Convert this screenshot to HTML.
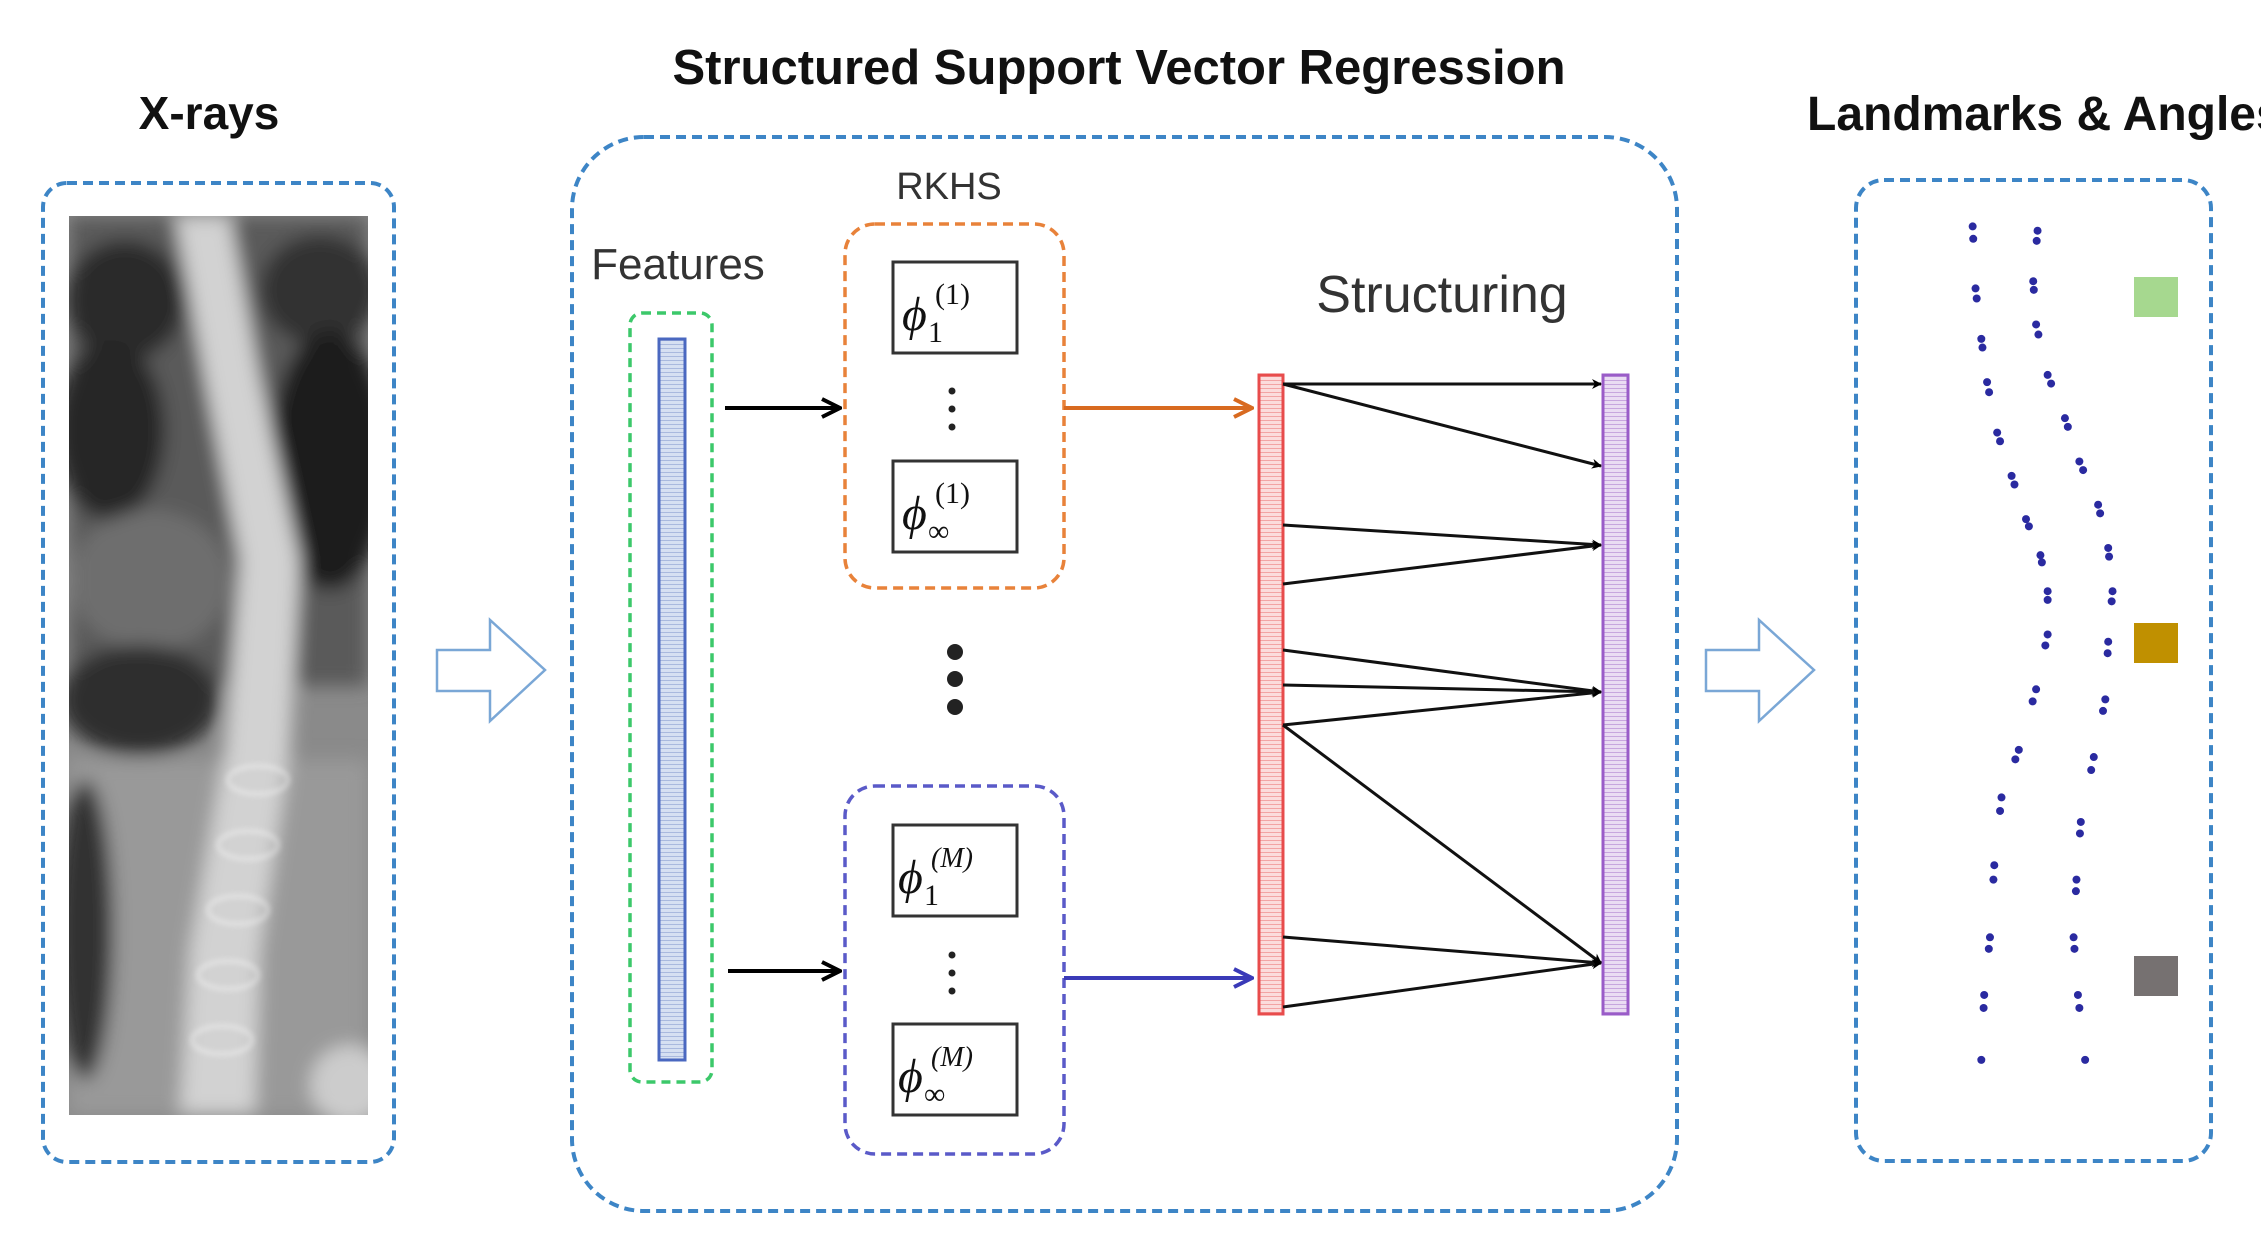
<!DOCTYPE html>
<html><head><meta charset="utf-8"><style>
html,body{margin:0;padding:0;background:#fff;}
body{width:2261px;height:1253px;overflow:hidden;position:relative;font-family:"Liberation Sans",sans-serif;}
</style></head><body>
<svg width="2261" height="1253" viewBox="0 0 2261 1253" xmlns="http://www.w3.org/2000/svg" style="position:absolute;left:0;top:0">
<defs>
<filter id="bl" x="-20%" y="-20%" width="140%" height="140%"><feGaussianBlur stdDeviation="9"/></filter>
<filter id="bl2"><feGaussianBlur stdDeviation="3"/></filter>
<clipPath id="xc"><rect x="69" y="216" width="299" height="899"/></clipPath>
<pattern id="hr" width="6" height="4" patternUnits="userSpaceOnUse"><rect width="6" height="4" fill="#d6e0f2"/><rect width="6" height="1" fill="#a9b9de"/></pattern>
<pattern id="hrr" width="6" height="4" patternUnits="userSpaceOnUse"><rect width="6" height="4" fill="#fbdcdc"/><rect width="6" height="1" fill="#f2a4a4"/></pattern>
<pattern id="hrp" width="6" height="4" patternUnits="userSpaceOnUse"><rect width="6" height="4" fill="#eadcf3"/><rect width="6" height="1" fill="#c7a6de"/></pattern>
<marker id="ak" markerWidth="10" markerHeight="10" refX="9" refY="5" orient="auto" markerUnits="userSpaceOnUse"><path d="M0,0 L10,5 L0,10 L3,5 Z" fill="#000"/></marker>
<marker id="ab" markerWidth="22" markerHeight="22" refX="20" refY="11" orient="auto" markerUnits="userSpaceOnUse"><path d="M2,2 L20,11 L2,20" fill="none" stroke="#000" stroke-width="4"/></marker>
<marker id="ao" markerWidth="22" markerHeight="22" refX="20" refY="11" orient="auto" markerUnits="userSpaceOnUse"><path d="M2,2 L20,11 L2,20" fill="none" stroke="#d86a20" stroke-width="4"/></marker>
<marker id="au" markerWidth="22" markerHeight="22" refX="20" refY="11" orient="auto" markerUnits="userSpaceOnUse"><path d="M2,2 L20,11 L2,20" fill="none" stroke="#3a3ab8" stroke-width="4"/></marker>
</defs>

<!-- Titles -->
<text x="209" y="129" font-size="46" font-weight="bold" text-anchor="middle" fill="#111">X-rays</text>
<text x="1119" y="84" font-size="49" font-weight="bold" text-anchor="middle" fill="#111">Structured Support Vector Regression</text>
<text x="1807" y="130" font-size="48" font-weight="bold" fill="#111">Landmarks &amp; Angles</text>

<!-- X-ray box -->
<rect x="43" y="183" width="351" height="979" rx="24" fill="none" stroke="#3d85c6" stroke-width="4" stroke-dasharray="10,6"/>
<g clip-path="url(#xc)">
<rect x="69" y="216" width="299" height="899" fill="#8a8a8a"/>
<g filter="url(#bl)">
<rect x="69" y="216" width="299" height="470" fill="#5a5a5a"/>
<ellipse cx="125" cy="300" rx="60" ry="60" fill="#2a2a2a"/>
<ellipse cx="110" cy="430" rx="55" ry="90" fill="#262626"/>
<ellipse cx="320" cy="290" rx="60" ry="55" fill="#303030"/>
<ellipse cx="330" cy="460" rx="60" ry="130" fill="#1c1c1c"/>
<ellipse cx="150" cy="580" rx="80" ry="70" fill="#6e6e6e"/>
<ellipse cx="140" cy="700" rx="80" ry="55" fill="#2f2f2f"/>
<rect x="69" y="760" width="299" height="355" fill="#999"/>
<ellipse cx="85" cy="930" rx="28" ry="150" fill="#333"/>
<ellipse cx="350" cy="1085" rx="40" ry="40" fill="#ccc"/>
<path d="M175,216 L230,216 L260,380 L300,560 L290,750 L260,950 L255,1115 L180,1115 L190,950 L225,750 L240,560 L205,380 Z" fill="#d2d2d2"/>
</g>
<g stroke="#fff" stroke-width="3" fill="none" opacity="0.55" filter="url(#bl2)">
<ellipse cx="258" cy="780" rx="30" ry="14"/><ellipse cx="248" cy="845" rx="30" ry="14"/><ellipse cx="238" cy="910" rx="30" ry="14"/><ellipse cx="228" cy="975" rx="30" ry="14"/><ellipse cx="222" cy="1040" rx="30" ry="14"/>
</g>
</g>

<!-- Arrows -->
<path d="M437,650 L490,650 L490,620 L545,670 L490,721 L490,691 L437,691 Z" fill="#fff" stroke="#7aa7d6" stroke-width="2.5"/>
<path d="M1706,650 L1759,650 L1759,620 L1814,670 L1759,721 L1759,691 L1706,691 Z" fill="#fff" stroke="#7aa7d6" stroke-width="2.5"/>

<!-- Main box -->
<rect x="572" y="137" width="1105" height="1074" rx="72" fill="none" stroke="#3d85c6" stroke-width="4" stroke-dasharray="10,6"/>
<text x="949" y="199" font-size="38" text-anchor="middle" fill="#333">RKHS</text>
<text x="678" y="279" font-size="44" text-anchor="middle" fill="#333">Features</text>
<text x="1442" y="312" font-size="52" text-anchor="middle" fill="#333">Structuring</text>

<rect x="630" y="313" width="82" height="769" rx="12" fill="none" stroke="#3cc86a" stroke-width="3.5" stroke-dasharray="9,6"/>
<rect x="659" y="339" width="26" height="721" fill="url(#hr)" stroke="#4a68c0" stroke-width="3"/>

<rect x="845" y="224" width="219" height="364" rx="30" fill="none" stroke="#e8823a" stroke-width="3.5" stroke-dasharray="10,6"/>
<rect x="845" y="786" width="219" height="368" rx="30" fill="none" stroke="#5a5ac8" stroke-width="3.5" stroke-dasharray="10,6"/>

<g fill="none" stroke="#333" stroke-width="3">
<rect x="893" y="262" width="124" height="91"/><rect x="893" y="461" width="124" height="91"/>
<rect x="893" y="825" width="124" height="91"/><rect x="893" y="1024" width="124" height="91"/>
</g>
<g font-family="Liberation Serif,serif" fill="#111">
<text x="902" y="330" font-size="48" font-style="italic">ϕ</text><text x="928" y="342" font-size="30">1</text><text x="935" y="304" font-size="30">(1)</text>
<text x="902" y="529" font-size="48" font-style="italic">ϕ</text><text x="928" y="541" font-size="30">∞</text><text x="935" y="503" font-size="30">(1)</text>
<text x="898" y="893" font-size="48" font-style="italic">ϕ</text><text x="924" y="905" font-size="30">1</text><text x="931" y="867" font-size="28" font-style="italic">(M)</text>
<text x="898" y="1092" font-size="48" font-style="italic">ϕ</text><text x="924" y="1104" font-size="30">∞</text><text x="931" y="1066" font-size="28" font-style="italic">(M)</text>
</g>
<g fill="#222">
<circle cx="952" cy="391" r="3.5"/><circle cx="952" cy="409" r="3.5"/><circle cx="952" cy="427" r="3.5"/>
<circle cx="952" cy="955" r="3.5"/><circle cx="952" cy="973" r="3.5"/><circle cx="952" cy="991" r="3.5"/>
<circle cx="955" cy="652" r="8"/><circle cx="955" cy="679" r="8"/><circle cx="955" cy="707" r="8"/>
</g>

<line x1="725" y1="408" x2="840" y2="408" stroke="#000" stroke-width="4" marker-end="url(#ab)"/>
<line x1="728" y1="971" x2="840" y2="971" stroke="#000" stroke-width="4" marker-end="url(#ab)"/>
<line x1="1064" y1="408" x2="1252" y2="408" stroke="#d86a20" stroke-width="4" marker-end="url(#ao)"/>
<line x1="1064" y1="978" x2="1252" y2="978" stroke="#3a3ab8" stroke-width="4" marker-end="url(#au)"/>

<rect x="1259" y="375" width="24" height="639" fill="url(#hrr)" stroke="#e84c4c" stroke-width="3"/>
<rect x="1603" y="375" width="25" height="639" fill="url(#hrp)" stroke="#9a5cc8" stroke-width="3"/>

<g stroke="#111" stroke-width="3" marker-end="url(#ak)">
<line x1="1283" y1="384" x2="1601" y2="384"/>
<line x1="1283" y1="384" x2="1601" y2="466"/>
<line x1="1283" y1="525" x2="1601" y2="545"/>
<line x1="1283" y1="584" x2="1601" y2="545"/>
<line x1="1283" y1="650" x2="1601" y2="692"/>
<line x1="1283" y1="685" x2="1601" y2="692"/>
<line x1="1283" y1="725" x2="1601" y2="692"/>
<line x1="1283" y1="725" x2="1601" y2="963"/>
<line x1="1283" y1="937" x2="1601" y2="963"/>
<line x1="1283" y1="1007" x2="1601" y2="963"/>
</g>

<!-- Right box -->
<rect x="1856" y="180" width="355" height="981" rx="28" fill="none" stroke="#3d85c6" stroke-width="4" stroke-dasharray="10,6"/>
<rect x="2134" y="277" width="44" height="40" fill="#a6d88f"/>
<rect x="2134" y="623" width="44" height="40" fill="#c09000"/>
<rect x="2134" y="956" width="44" height="40" fill="#767171"/>
<g id="dots" fill="#2a2aa0"></g>
</svg>
<script>
var L=[[1368,157],[1370,200],[1374,235],[1378,265],[1385,300],[1395,330],[1405,360],[1415,385],[1420,410],[1420,440],[1412,478],[1400,520],[1388,553],[1383,600],[1380,650],[1376,690],[1374,735]];
var R=[[1413,160],[1410,195],[1412,225],[1420,260],[1432,290],[1442,320],[1455,350],[1462,380],[1465,410],[1462,445],[1460,485],[1452,525],[1443,570],[1440,610],[1438,650],[1441,690],[1446,735]];
var g=document.getElementById('dots'),s=1.442,h='';
[L,R].forEach(function(c){c.forEach(function(p,i){var x=p[0]*s,y=p[1]*s;h+='<circle cx="'+x+'" cy="'+y+'" r="4"/>';if(i<c.length-1){h+='<circle cx="'+(x+ (c[i+1][0]*s-x)*0.2)+'" cy="'+(y+(c[i+1][1]*s-y)*0.2)+'" r="4"/>';}});});
g.innerHTML=h;
</script>
</body></html>
